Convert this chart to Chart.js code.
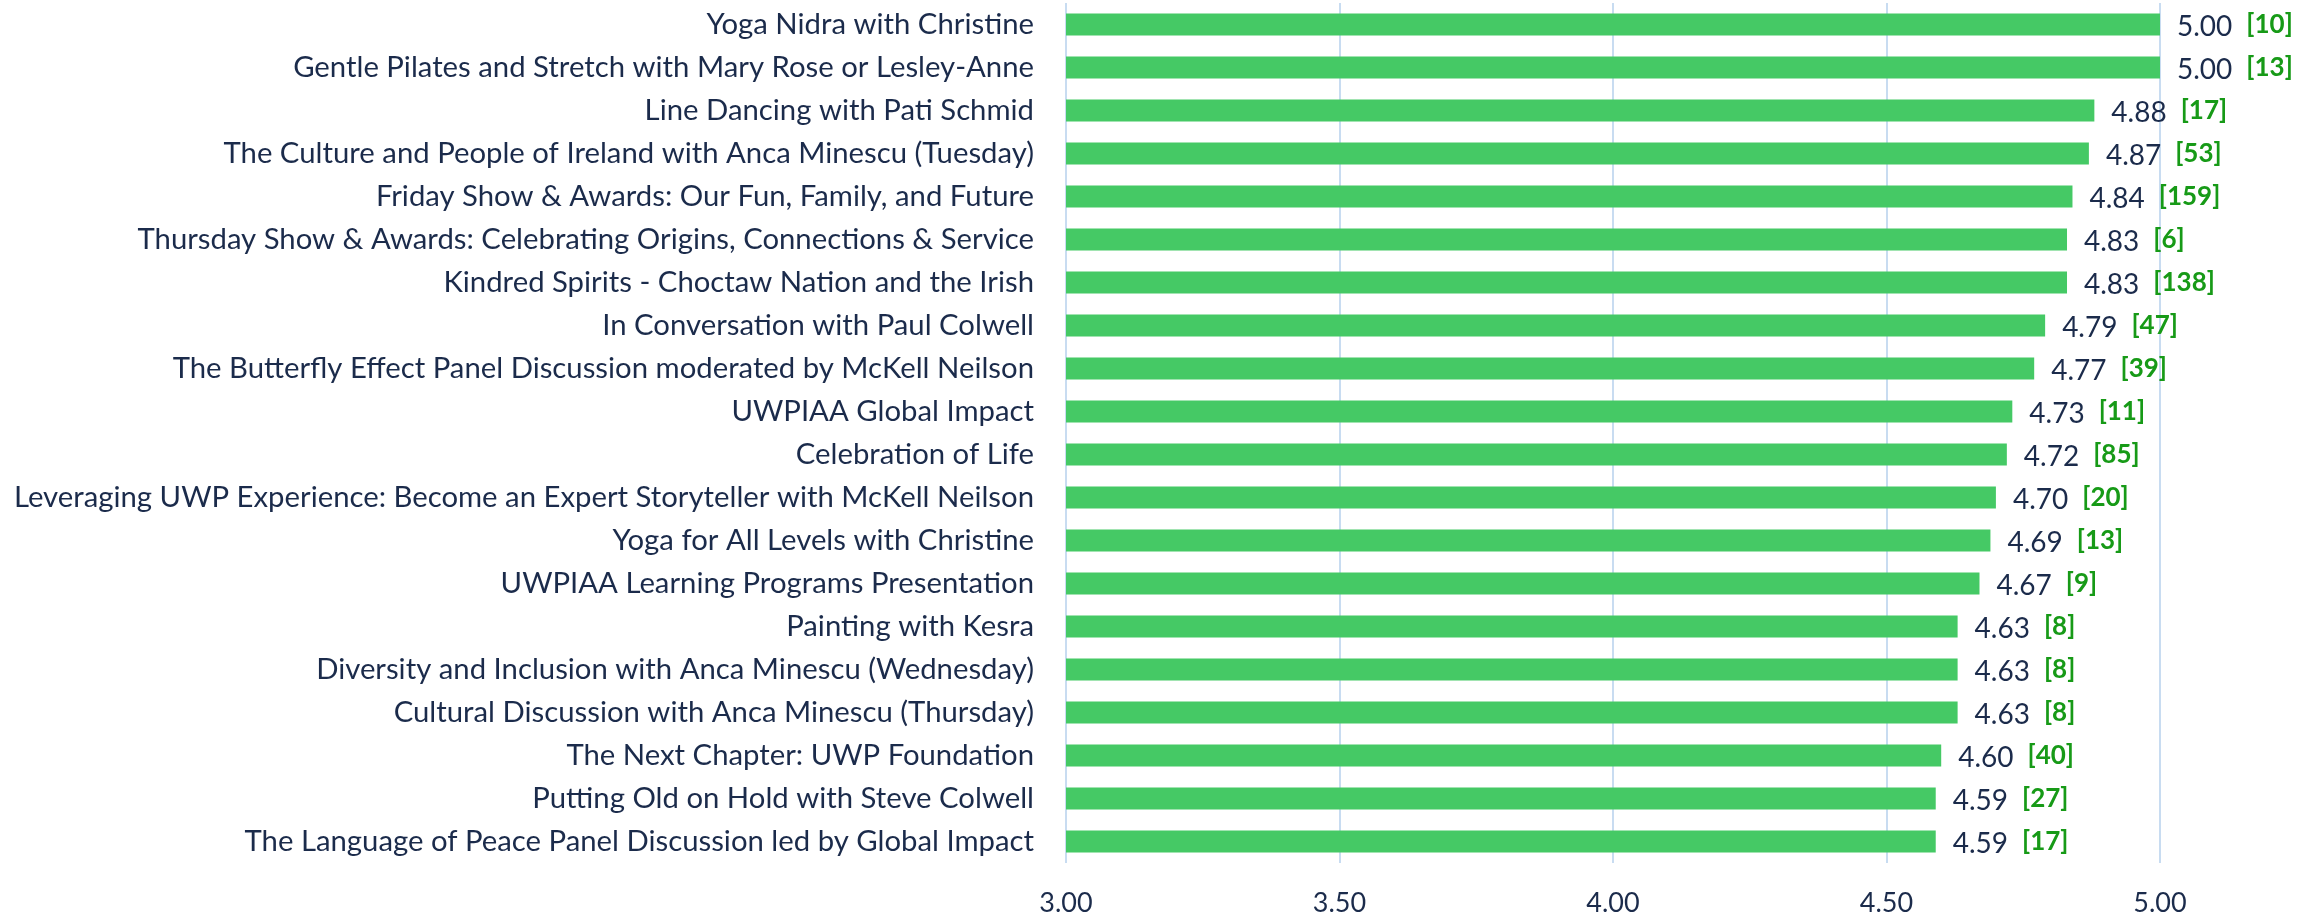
<!DOCTYPE html>
<html>
<head>
<meta charset="utf-8">
<script src="https://cdn.jsdelivr.net/npm/chart.js@4.4.1/dist/chart.umd.min.js"></script>
<style>
  html, body { margin: 0; padding: 0; background: #fff; }
  #wrap { width: 2315px; height: 916px; position: relative; }
</style>
</head>
<body>
<div id="wrap"><canvas id="sessionChart"></canvas></div>
<script>
// Session ratings (average score) and response counts
const sessions = [
    'Yoga Nidra with Christine',
    'Gentle Pilates and Stretch with Mary Rose or Lesley-Anne',
    'Line Dancing with Pati Schmid',
    'The Culture and People of Ireland with Anca Minescu (Tuesday)',
    'Friday Show & Awards: Our Fun, Family, and Future',
    'Thursday Show & Awards: Celebrating Origins, Connections & Service',
    'Kindred Spirits - Choctaw Nation and the Irish',
    'In Conversation with Paul Colwell',
    'The Butterfly Effect Panel Discussion moderated by McKell Neilson',
    'UWPIAA Global Impact',
    'Celebration of Life',
    'Leveraging UWP Experience: Become an Expert Storyteller with McKell Neilson',
    'Yoga for All Levels with Christine',
    'UWPIAA Learning Programs Presentation',
    'Painting with Kesra',
    'Diversity and Inclusion with Anca Minescu (Wednesday)',
    'Cultural Discussion with Anca Minescu (Thursday)',
    'The Next Chapter: UWP Foundation',
    'Putting Old on Hold with Steve Colwell',
    'The Language of Peace Panel Discussion led by Global Impact'
];
const ratings = [5.00, 5.00, 4.88, 4.87, 4.84, 4.83, 4.83, 4.79, 4.77, 4.73,
                 4.72, 4.70, 4.69, 4.67, 4.63, 4.63, 4.63, 4.60, 4.59, 4.59];
const responses = [10, 13, 17, 53, 159, 6, 138, 47, 39, 11,
                   85, 20, 13, 9, 8, 8, 8, 40, 27, 17];
const xTicks = [3.0, 3.5, 4.0, 4.5, 5.0];

const NAVY = '#1b2b4b';
const GREEN_TXT = '#179a17';
const FONT = "Lato, 'Open Sans', sans-serif";

// value + [count] labels at the end of each bar
const barLabels = {
    id: 'barLabels',
    afterDatasetsDraw(chart) {
        const ctx = chart.ctx;
        const meta = chart.getDatasetMeta(0);
        ctx.save();
        ctx.textBaseline = 'middle';
        ctx.textAlign = 'left';
        meta.data.forEach((bar, i) => {
            const x = bar.x + 17;
            const y = bar.y + 2;
            const val = ratings[i].toFixed(2);
            ctx.font = `28px ${FONT}`;
            ctx.fillStyle = NAVY;
            ctx.fillText(val, x, y);
            const w = ctx.measureText(val).width;
            ctx.font = `bold 26px ${FONT}`;
            ctx.fillStyle = GREEN_TXT;
            ctx.fillText(`[${responses[i]}]`, x + w + 14, y - 2);
        });
        ctx.restore();
    }
};

new Chart(document.getElementById('sessionChart'), {
    type: 'bar',
    data: {
        labels: sessions,
        datasets: [{
            data: ratings,
            backgroundColor: '#45c965',
            borderWidth: 0,
            barPercentage: 0.51,
            categoryPercentage: 1.0
        }]
    },
    options: {
        indexAxis: 'y',
        responsive: true,
        maintainAspectRatio: false,
        animation: false,
        layout: { padding: { top: 3, right: 155, left: 0, bottom: 0 } },
        plugins: {
            legend: { display: false },
            tooltip: { enabled: false }
        },
        scales: {
            x: {
                min: 3,
                max: 5,
                afterBuildTicks: (s) => { s.ticks = xTicks.map(v => ({ value: v })); },
                afterFit: (s) => { s.height = 53; s.paddingLeft = 0; s.paddingRight = 0; },
                grid: { color: '#c8dcf1', lineWidth: 2, drawTicks: false },
                border: { display: false },
                ticks: {
                    color: NAVY,
                    padding: 24,
                    font: { family: FONT, size: 27 },
                    callback: (v) => Number(v).toFixed(2)
                }
            },
            y: {
                afterFit: (s) => { s.width = 1066; s.paddingTop = 0; s.paddingBottom = 0; },
                grid: { display: false, drawTicks: false },
                border: { display: false },
                ticks: {
                    color: NAVY,
                    padding: 32,
                    autoSkip: false,
                    font: { family: FONT, size: 29.3 }
                }
            }
        }
    },
    plugins: [barLabels]
});
</script>
</body>
</html>
